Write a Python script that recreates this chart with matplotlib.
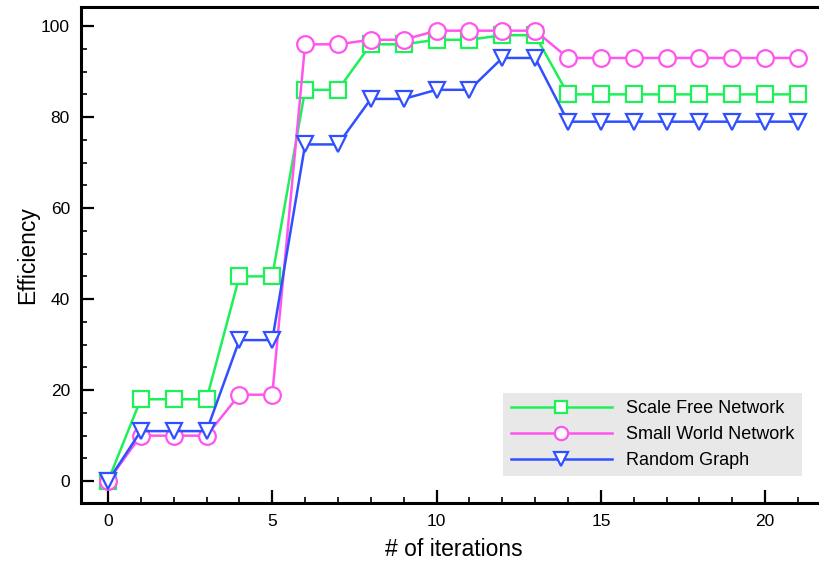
import matplotlib
matplotlib.use("Agg")
import matplotlib.pyplot as plt
from matplotlib.ticker import MultipleLocator

plt.rcParams['font.family'] = ['Liberation Sans', 'DejaVu Sans']

# data
iterations = list(range(22))
scale_free = [0, 18, 18, 18, 45, 45, 86, 86, 96, 96, 97, 97, 98, 98,
              85, 85, 85, 85, 85, 85, 85, 85]
small_world = [0, 10, 10, 10, 19, 19, 96, 96, 97, 97, 99, 99, 99, 99,
               93, 93, 93, 93, 93, 93, 93, 93]
random_graph = [0, 11, 11, 11, 31, 31, 74, 74, 84, 84, 86, 86, 93, 93,
                79, 79, 79, 79, 79, 79, 79, 79]
labels = ["Scale Free Network", "Small World Network", "Random Graph"]

fig = plt.figure(figsize=(8.2, 5.63), dpi=100)
ax = fig.add_axes([81 / 820, 60 / 563, 745 / 820, 496 / 563])

ax.plot(iterations, scale_free, color='#1ef05a', lw=1.8, marker='s', ms=11,
        mfc='white', mew=1.6, label=labels[0])
ax.plot(iterations, small_world, color='#ff55ee', lw=1.8, marker='o', ms=12,
        mfc='white', mew=1.6, label=labels[1])
ax.plot(iterations, random_graph, color='#3050ff', lw=1.8, marker='v', ms=12,
        mfc='white', mew=1.6, label=labels[2])

ax.set_xlim(-0.82, 21.85)
ax.set_ylim(-4.8, 104.2)

ax.xaxis.set_major_locator(MultipleLocator(5))
ax.xaxis.set_minor_locator(MultipleLocator(1))
ax.yaxis.set_major_locator(MultipleLocator(20))
ax.yaxis.set_minor_locator(MultipleLocator(5))
ax.tick_params(which='both', direction='in', top=False, right=False,
               labelsize=12.5, width=1.6, pad=8)
ax.tick_params(which='major', length=9.5)
ax.tick_params(which='minor', length=4.5, width=1.2)
for s in ax.spines.values():
    s.set_linewidth(2.2)

ax.set_xlabel("# of iterations", fontsize=16.5, labelpad=6.5)
ax.set_ylabel("Efficiency", fontsize=16.5, labelpad=1)

leg = ax.legend(loc='lower right', bbox_to_anchor=(0.9675, 0.054),
                borderaxespad=0, fontsize=13, handlelength=5.6,
                markerscale=0.8, handletextpad=0.8,
                frameon=True, fancybox=False, edgecolor='none',
                facecolor='#e8e8e8', framealpha=1, labelspacing=0.5,
                borderpad=0.4)

fig.savefig("out.png", dpi=100)
